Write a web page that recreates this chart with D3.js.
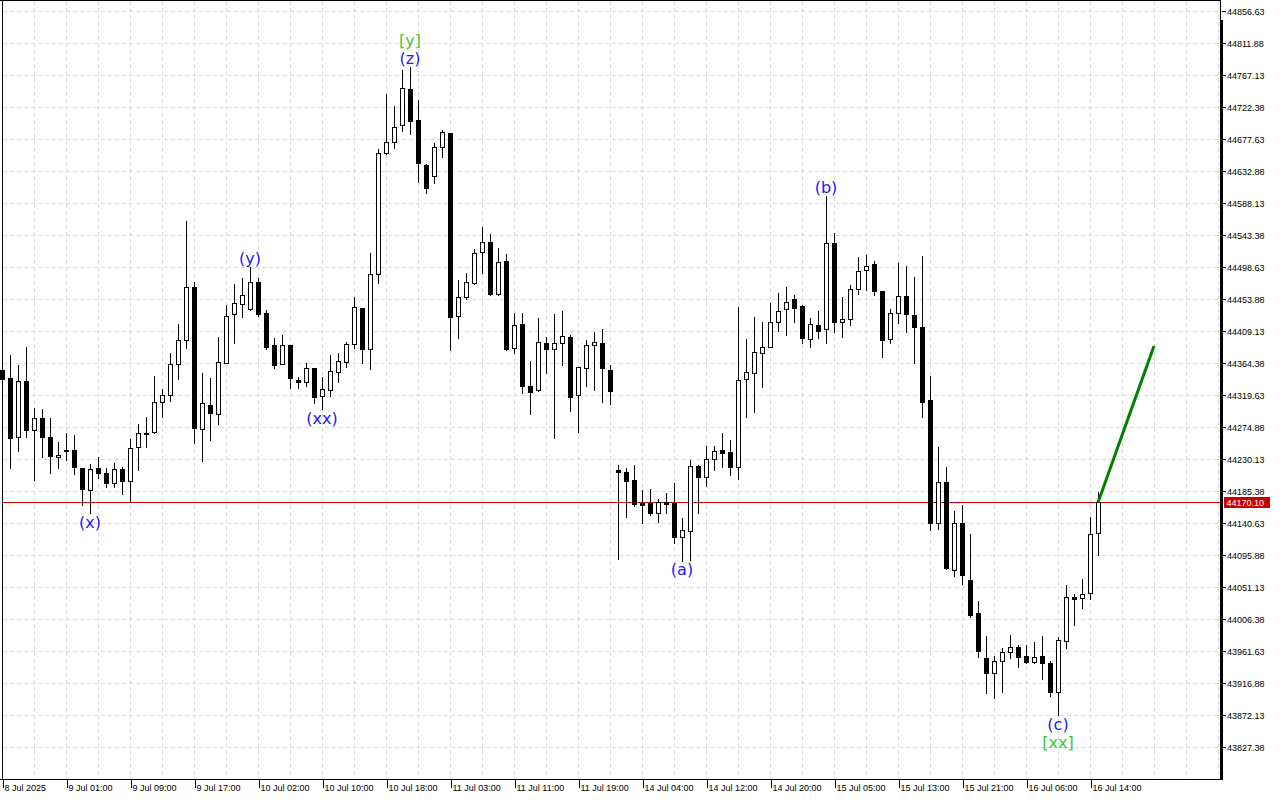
<!DOCTYPE html>
<html><head><meta charset="utf-8">
<script src="https://cdn.jsdelivr.net/npm/d3@7"></script>
<style>html,body{margin:0;padding:0;background:#fff;overflow:hidden}</style>
</head><body>
<svg id="chart" width="1280" height="800"></svg>
<script>
// Hourly candles, index 0 = 8 Jul 2025 17:00
const opens = [
44355.3,44343.7,44261.2,44340.3,44271.4,44287.8,44261.2,44233.2,44243.4,44243.4,
44217.8,44187.5,44217.8,44210.8,44196.9,44216.4,44200.5,44247.2,44265.8,44268.2,
44310.1,44319.9,44363.3,44396.8,44470.9,44272.4,44306.3,44293.3,44365.5,44433.2,
44448.0,44440.2,44477.9,44434.6,44389.8,44364.1,44389.8,44340.9,44338.5,44357.7,
44318.9,44327.3,44352.9,44366.9,44391.2,44441.6,44384.2,44489.9,44658.3,44673.7,
44697.9,44747.8,44704.9,44642.0,44627.0,44666.7,44686.3,44430.8,44457.8,44476.5,
44519.9,44533.9,44461.2,44507.7,44385.6,44419.2,44332.9,44326.9,44392.6,44384.2,
44392.6,44401.0,44320.3,44357.7,44389.8,44392.6,44355.3,44215.4,44212.2,44201.5,
44169.7,44169.7,44155.8,44170.3,44169.7,44121.3,44130.6,44221.4,44206.0,44230.4,
44243.4,44240.2,44219.2,44342.3,44350.7,44378.7,44387.8,44422.8,44440.2,44454.2,
44444.8,44398.2,44418.2,44412.2,44533.3,44422.8,44426.2,44468.2,44495.1,44503.5,
44465.8,44398.2,44434.6,44458.8,44432.2,44415.0,44313.3,44140.9,44198.3,44075.6,
44140.9,44061.6,44015.1,43952.1,43931.2,43948.7,43960.5,43968.3,43955.3,43947.3,
43955.3,43945.1,43905.4,43976.7,44037.4,44036.0,44043.0,44126.9];
const highs = [
44359.5,44376.3,44362.3,44387.1,44301.7,44300.3,44287.8,44255.0,44266.8,44264.4,
44218.9,44223.8,44233.2,44217.8,44224.8,44219.2,44258.8,44279.4,44290.0,44346.9,
44328.3,44378.7,44419.6,44563.3,44478.3,44350.7,44343.7,44401.4,44446.2,44475.5,
44484.3,44498.9,44483.5,44439.2,44399.6,44404.2,44390.5,44345.9,44364.7,44358.4,
44345.1,44375.9,44378.4,44394.8,44457.0,44442.4,44518.5,44663.9,44741.3,44724.5,
44774.8,44778.6,44732.9,44643.0,44673.1,44690.9,44687.0,44481.1,44490.5,44524.1,
44554.9,44545.5,44525.5,44517.1,44434.6,44434.6,44367.9,44428.4,44401.0,44433.6,
44437.8,44404.2,44359.8,44397.2,44408.4,44412.6,44362.3,44222.4,44218.7,44222.4,
44187.5,44188.9,44174.9,44182.9,44197.7,44147.9,44229.4,44222.4,44249.0,44249.0,
44266.8,44257.4,44443.8,44398.2,44429.8,44422.0,44449.4,44462.6,44470.9,44460.2,
44445.5,44427.6,44437.8,44598.6,44547.3,44457.0,44474.1,44512.9,44516.1,44507.7,
44466.2,44440.2,44505.3,44500.7,44485.7,44514.7,44346.9,44248.0,44220.0,44158.5,
44166.5,44125.9,44032.2,43983.3,43955.3,43966.9,43984.7,43970.7,43970.7,43975.3,
43983.3,43948.3,43982.3,44054.6,44042.0,44062.6,44149.3,44185.1];
const lows = [
44339.9,44217.8,44242.4,44261.2,44200.8,44234.0,44211.7,44217.8,44229.4,44209.8,
44166.5,44154.9,44203.8,44191.3,44191.3,44181.5,44171.1,44215.4,44247.2,44267.5,
44289.2,44312.3,44342.3,44385.6,44253.6,44228.4,44257.4,44279.4,44364.7,44393.4,
44429.0,44439.5,44430.8,44384.2,44358.5,44363.3,44329.7,44329.7,44332.9,44309.5,
44300.3,44319.4,44337.8,44359.9,44385.6,44364.7,44356.7,44477.3,44657.8,44665.3,
44689.9,44685.3,44618.6,44603.2,44617.2,44653.5,44383.2,44399.6,44454.2,44476.0,
44491.3,44460.5,44460.2,44383.2,44378.6,44323.5,44293.3,44326.5,44351.5,44259.8,
44362.3,44297.9,44269.0,44333.4,44327.3,44310.9,44307.7,44091.0,44150.1,44165.1,
44141.7,44152.5,44143.1,44154.9,44112.9,44088.6,44089.6,44154.9,44193.5,44215.4,
44219.2,44208.4,44202.5,44290.0,44296.9,44332.0,44387.2,44410.2,44404.2,44422.8,
44393.4,44387.8,44399.6,44393.4,44408.8,44401.8,44418.2,44461.6,44467.2,44460.2,
44373.9,44393.4,44421.4,44408.8,44365.5,44290.0,44131.5,44132.5,44077.5,44067.2,
44056.0,44010.3,43954.3,43904.0,43896.2,43905.4,43952.1,43940.3,43945.9,43945.1,
43922.8,43899.4,43872.8,43966.1,43998.7,44022.1,44034.6,44096.6];
const closes = [
44342.3,44259.8,44340.3,44270.7,44287.8,44261.2,44235.4,44236.4,44241.6,44219.2,
44188.5,44216.4,44210.8,44196.9,44216.4,44200.5,44245.8,44266.8,44267.6,44310.1,
44319.9,44363.3,44396.8,44471.8,44274.6,44308.7,44294.7,44366.9,44431.2,44449.4,
44459.8,44477.9,44434.0,44387.8,44362.7,44389.8,44343.7,44338.5,44357.7,44317.1,
44328.3,44353.5,44368.3,44391.2,44443.0,44384.2,44489.1,44659.1,44674.5,44695.5,
44749.2,44703.9,44645.2,44610.2,44666.7,44687.7,44429.0,44457.8,44477.9,44518.5,
44533.9,44461.2,44505.9,44384.6,44417.8,44333.4,44324.9,44394.0,44384.2,44392.6,
44402.8,44317.9,44359.1,44389.8,44394.0,44357.7,44326.3,44212.2,44200.5,44167.9,
44166.9,44155.8,44170.3,44167.9,44122.1,44131.5,44221.0,44206.0,44230.4,44242.4,
44239.6,44219.2,44341.3,44352.9,44380.1,44387.1,44422.0,44438.2,44450.8,44441.6,
44399.6,44419.2,44410.2,44532.5,44422.8,44426.2,44468.2,44493.7,44501.1,44466.2,
44397.2,44434.6,44458.8,44433.2,44415.0,44310.9,44140.9,44198.3,44078.0,44140.9,
44068.6,44012.7,43962.7,43931.2,43948.3,43960.5,43968.3,43954.3,43947.3,43954.3,
43945.1,43905.4,43977.7,44037.4,44034.6,44042.0,44125.5,44170.1];

const timeLabels = ["8 Jul 2025","9 Jul 01:00","9 Jul 09:00","9 Jul 17:00","10 Jul 02:00",
"10 Jul 10:00","10 Jul 18:00","11 Jul 03:00","11 Jul 11:00","11 Jul 19:00","14 Jul 04:00",
"14 Jul 12:00","14 Jul 20:00","15 Jul 05:00","15 Jul 13:00","15 Jul 21:00","16 Jul 06:00","16 Jul 14:00"];
const timeLabelIdx = [0,8,16,24,32,40,48,56,64,72,80,88,96,104,112,120,128,136];

const priceTicks = [44856.63,44811.88,44767.13,44722.38,44677.63,44632.88,44588.13,44543.38,
44498.63,44453.88,44409.13,44364.38,44319.63,44274.88,44230.13,44185.38,44140.63,44095.88,
44051.13,44006.38,43961.63,43916.88,43872.13,43827.38];

const lastPrice = 44170.10;

const waveIdx   = [11, 31, 40, 51, 51, 85, 103, 132, 132];
const waveText  = ["(x)","(y)","(xx)","(z)","[y]","(a)","(b)","(c)","[xx]"];
const waveSide  = ["below","above","below","above","above","below","above","below","below"];
const waveRow   = [0,0,0,0,1,0,0,0,1];
const waveColor = ["blue","blue","blue","blue","green","blue","blue","blue","green"];

const projFromIdx = 137, projToIdx = 144, projToPrice = 44388.8;

// ---------------------------------------------------------------
const svg = d3.select("#chart");
const plotR = 1220, plotB = 779;
const x = d3.scaleLinear().domain([-0.25, 152.5]).range([0, 1222]);
const y = d3.scaleLinear().domain([43783.3, 44872.7]).range([plotB, 0]);
const colors = {blue: "#1a1aff", green: "#3cc83c"};

// grid
const grid = svg.append("g").attr("stroke", "#dcdcdc").attr("stroke-dasharray", "4,3").attr("shape-rendering","crispEdges");
grid.selectAll("line.h").data(priceTicks).join("line")
  .attr("x1", 3).attr("x2", plotR)
  .attr("y1", d => Math.round(y(d)) + 0.5).attr("y2", d => Math.round(y(d)) + 0.5);
grid.selectAll("line.v").data(d3.range(4, 153, 4)).join("line")
  .attr("x1", d => Math.round(x(d)) + 0.5).attr("x2", d => Math.round(x(d)) + 0.5)
  .attr("y1", 1).attr("y2", plotB);

// current price line
const lpY = Math.round(y(lastPrice)) + 0.5;
svg.append("line").attr("x1", 2).attr("x2", plotR).attr("y1", lpY).attr("y2", lpY)
  .attr("stroke", "#dd0000").attr("stroke-width", 1).attr("shape-rendering","crispEdges");

// candles
const idx = d3.range(opens.length);
const cg = svg.append("g").attr("shape-rendering","crispEdges");
cg.selectAll("line.wick").data(idx).join("line")
  .attr("x1", i => Math.round(x(i)) + 0.5).attr("x2", i => Math.round(x(i)) + 0.5)
  .attr("y1", i => Math.round(y(highs[i]))).attr("y2", i => Math.round(y(lows[i])) + 1)
  .attr("stroke", "#000").attr("stroke-width", 1);
idx.forEach(i => {
  const cx = Math.round(x(i));
  const top = Math.round(y(Math.max(opens[i], closes[i])));
  const bot = Math.round(y(Math.min(opens[i], closes[i])));
  const bull = closes[i] >= opens[i];
  if (bot - top < 1) {
    cg.append("line").attr("x1", cx - 2).attr("x2", cx + 3)
      .attr("y1", top + 0.5).attr("y2", top + 0.5).attr("stroke", "#000");
  } else {
    cg.append("rect").attr("x", cx - 1.5).attr("y", top + 0.5)
      .attr("width", 4).attr("height", bot - top)
      .attr("fill", bull ? "#fff" : "#000").attr("stroke", "#000").attr("stroke-width", 1);
  }
});

// projection line
svg.append("line")
  .attr("x1", x(projFromIdx)).attr("y1", y(closes[projFromIdx]))
  .attr("x2", x(projToIdx)).attr("y2", y(projToPrice))
  .attr("stroke", "#008000").attr("stroke-width", 3);

// wave labels
svg.append("g").selectAll("text").data(waveIdx).join("text")
  .attr("x", (d, k) => x(d))
  .attr("y", (d, k) => waveSide[k] === "above" ? y(highs[d]) - 9 - 18 * waveRow[k]
                                                : y(lows[d]) + 9 + 18.5 * waveRow[k])
  .attr("text-anchor", "middle").attr("dominant-baseline", "central")
  .attr("font-family", "DejaVu Sans").attr("font-size", 16)
  .attr("fill", (d, k) => colors[waveColor[k]])
  .text((d, k) => waveText[k]);

// frame
svg.append("line").attr("x1", 0).attr("x2", 1221).attr("y1", 0.5).attr("y2", 0.5).attr("stroke", "#000");
svg.append("line").attr("x1", 2.5).attr("x2", 2.5).attr("y1", 0).attr("y2", plotB).attr("stroke", "#000");
svg.append("line").attr("x1", 1220.5).attr("x2", 1220.5).attr("y1", 0).attr("y2", 22).attr("stroke", "#000");
svg.append("rect").attr("x", 1220).attr("y", 20).attr("width", 3).attr("height", plotB + 1 - 20).attr("fill", "#000");

// right axis
const ya = svg.append("g").attr("transform", "translate(1222,0)")
  .call(d3.axisRight(y).tickValues(priceTicks).tickFormat(d3.format(".2f")).tickSize(4).tickPadding(1));
ya.select(".domain").remove();
ya.selectAll("text").attr("font-family", "Liberation Sans").attr("font-size", 9).attr("fill", "#000");
ya.selectAll("line").attr("stroke", "#000").attr("shape-rendering","crispEdges");

// current price tag
const tag = svg.append("g");
tag.append("rect").attr("x", 1224).attr("y", Math.round(y(lastPrice)) - 5).attr("width", 46).attr("height", 11).attr("fill", "#cc0000");
tag.append("text").attr("x", 1226.5).attr("y", Math.round(y(lastPrice)) + 0.5)
  .attr("dominant-baseline", "central").attr("font-family", "Liberation Sans").attr("font-size", 9)
  .attr("fill", "#fff").text(d3.format(".2f")(lastPrice));

// bottom axis
svg.append("line").attr("x1", 0).attr("x2", 1223).attr("y1", plotB + 0.5).attr("y2", plotB + 0.5)
  .attr("stroke", "#000").attr("shape-rendering","crispEdges");
const xa = svg.append("g").attr("transform", `translate(0,${plotB + 1})`)
  .call(d3.axisBottom(x).tickValues(timeLabelIdx).tickFormat((d, k) => timeLabels[k]).tickSize(8).tickPadding(0));
xa.select(".domain").remove();
xa.selectAll("line").attr("stroke", "#000").attr("transform", "translate(0.5,0)").attr("shape-rendering","crispEdges");
xa.selectAll("text").attr("text-anchor", "start").attr("dx", 2).attr("y", 5).attr("dy", "0.71em")
  .attr("font-family", "Liberation Sans").attr("font-size", 9).attr("fill", "#000");
</script>
</body></html>
